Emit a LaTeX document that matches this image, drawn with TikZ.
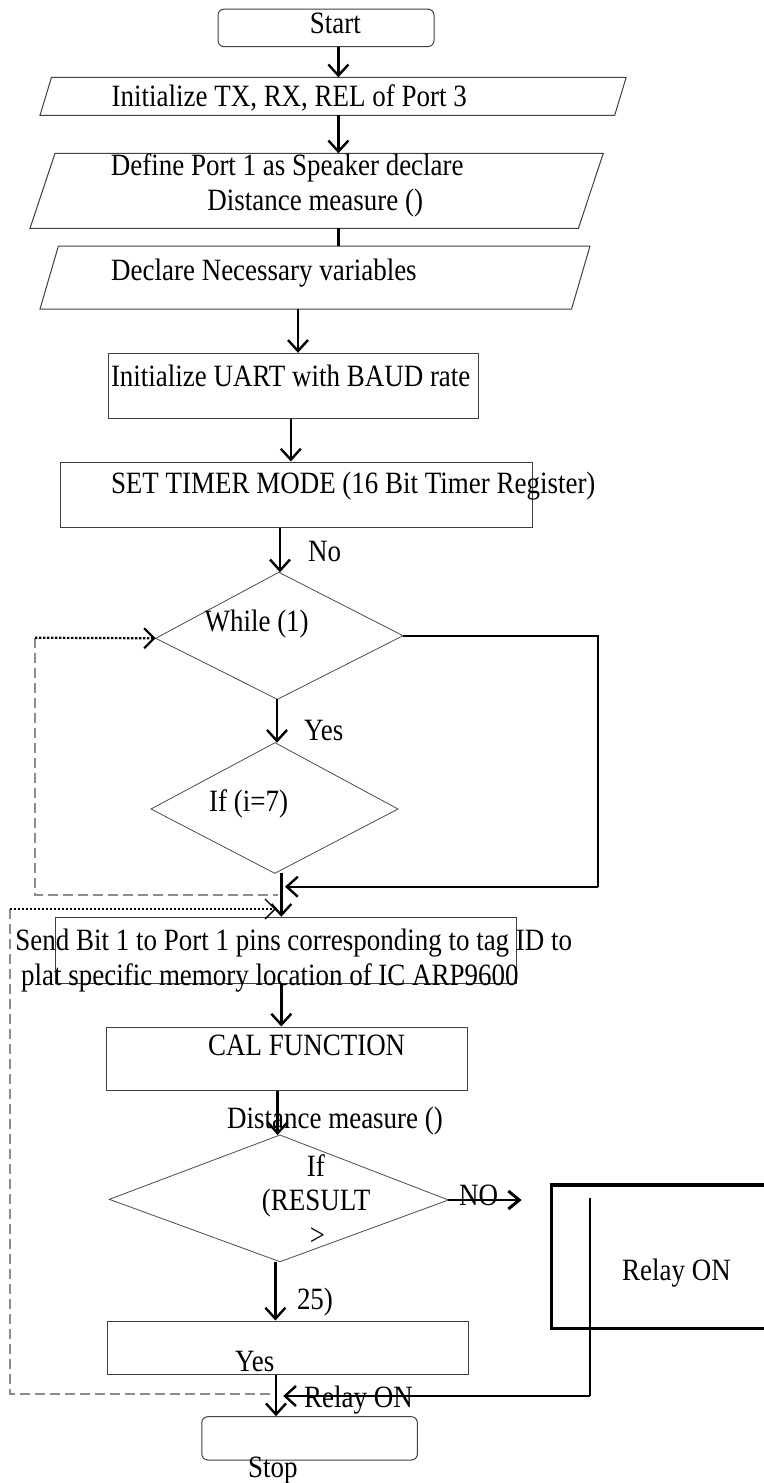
\documentclass[tikz,border=0pt]{standalone}
\usepackage{fontspec}
\setmainfont{Liberation Serif}
\newfontfamily\reffont[FakeStretch=0.87]{Liberation Serif}
\usetikzlibrary{arrows.meta}
\begin{document}
\begin{tikzpicture}[x=1pt,y=-1pt,
  txt/.style={anchor=base west,inner sep=0pt,font=\reffont\fontsize{31}{36}\selectfont},
  boxshape/.style={draw=black!75,line width=1pt},
  rbox/.style={boxshape,rectangle,inner sep=0pt},
  arr/.style={line width=2.4pt,-{Straight Barb[length=11pt,width=20pt]}},
  dots/.style={line width=2.2pt,dash pattern=on 2.4pt off 1.6pt},
  greydash/.style={draw=black!45,line width=1.4pt,dash pattern=on 10pt off 5pt},
  link/.style={line width=2pt}]
\useasboundingbox (0,0) rectangle (763,1483);
\fill[white] (0,0) rectangle (763,1483);

% ---------- shapes ----------
\node[rbox,rounded corners=6pt,minimum width=216pt,minimum height=37.4pt] (start) at (326,27.85) {};
\node[txt] (tstart) at (309.7,33.3) {Start};

\coordinate (p1bl) at (40,115.3); \coordinate (p1br) at (614.7,115.3);
\coordinate (p1tr) at (626.2,77.3); \coordinate (p1tl) at (51.5,77.3);
\draw[boxshape] (p1bl) -- (p1br) -- (p1tr) -- (p1tl) -- cycle;
\node[txt] (tp1) at (111.5,106) {Initialize TX, RX, REL of Port 3};

\coordinate (p2bl) at (30,228.3); \coordinate (p2br) at (578.4,228.3);
\coordinate (p2tr) at (603.3,153.3); \coordinate (p2tl) at (55,153.3);
\draw[boxshape] (p2bl) -- (p2br) -- (p2tr) -- (p2tl) -- cycle;
\node[txt] (tp2a) at (110.7,175) {Define Port 1 as Speaker declare};
\node[txt] (tp2b) at (207.2,210) {Distance measure ()};

\coordinate (p3bl) at (40,309); \coordinate (p3br) at (571.6,309);
\coordinate (p3tr) at (590,246); \coordinate (p3tl) at (58.4,246);
\draw[boxshape] (p3bl) -- (p3br) -- (p3tr) -- (p3tl) -- cycle;
\node[txt] (tp3) at (111,280) {Declare Necessary variables};

\node[rbox,minimum width=369.9pt,minimum height=65pt] (uart) at (293.65,385.8) {};
\node[txt] (tuart) at (110.8,386.7) {Initialize UART with BAUD rate};

\node[rbox,minimum width=472.8pt,minimum height=65.7pt] (timer) at (296.4,494.85) {};
\node[txt] (ttimer) at (110.8,493.3) {SET TIMER MODE (16 Bit Timer Register)};

% while diamond
\coordinate (wt) at (278.8,572.3); \coordinate (wr) at (403,635.7);
\coordinate (wb) at (277.4,699.3); \coordinate (wl) at (155.7,638.3);
\draw[draw=black!70,line width=0.8pt] (wt) -- (wr) -- (wb) -- (wl) -- cycle;
\node[txt] (twhile) at (204.4,631.7) {While (1)};

% if (i=7) diamond
\coordinate (it) at (275,742.7); \coordinate (ir) at (398,809);
\coordinate (ib) at (274.8,873.3); \coordinate (il) at (151,809);
\draw[draw=black!70,line width=0.8pt] (it) -- (ir) -- (ib) -- (il) -- cycle;
\node[txt] (tif) at (209,811) {If (i=7)};

\node[rbox,minimum width=461.1pt,minimum height=66pt] (send) at (286.05,950.3) {};
\node[txt] (tsend1) at (15.3,950) {Send Bit 1 to Port 1 pins corresponding to tag ID to};
\node[txt] (tsend2) at (21,985) {plat specific memory location of IC ARP9600};

\node[rbox,minimum width=361.4pt,minimum height=63pt] (cal) at (287,1058.5) {};
\node[txt] (tcal) at (208,1055) {CAL FUNCTION};
\node[txt] (tdist) at (227,1128.3) {Distance measure ()};

% result diamond
\coordinate (rt) at (280,1135); \coordinate (rr) at (448.4,1200);
\coordinate (rb) at (280,1261.7); \coordinate (rl) at (109.3,1199.3);
\draw[draw=black!70,line width=0.8pt] (rt) -- (rr) -- (rb) -- (rl) -- cycle;
\node[txt] (tres1) at (306.7,1176) {If};
\node[txt] (tres2) at (261.7,1210.7) {(RESULT};
\node[txt] (tres3) at (309.7,1245) {>};

% relay box (cut at the right edge)
\coordinate (rlt) at (551.7,1185); \coordinate (rlb) at (551.7,1328.3);
\draw[line width=3.5pt] (766,1185) -- (rlt) -- (rlb) -- (766,1328.3);
\node[txt] (trelay) at (622,1280) {Relay ON};

\node[rbox,minimum width=361.6pt,minimum height=53.3pt] (yesbox) at (287.8,1347.65) {};
\node[txt] (tyes) at (235,1371) {Yes};

\node[rbox,rounded corners=6pt,minimum width=215.6pt,minimum height=43.3pt] (stop) at (309.6,1438.35) {};
\node[txt] (tstop) at (248,1477.3) {Stop};

% ---------- connectors ----------
\coordinate (a1) at (338.4,0);
\draw[arr] (start.south -| a1) -- (p1tl -| a1);
\draw[arr] (p1bl -| a1) -- (p2tl -| a1);
\draw[line width=2.4pt] (p2bl -| a1) -- (p3tl -| a1);
\coordinate (a4) at (298,0);
\draw[arr] (p3bl -| a4) -- (uart.north -| a4);
\coordinate (a5) at (290.8,0);
\draw[arr] (uart.south -| a5) -- (timer.north -| a5);
\coordinate (a6) at (280,0);
\draw[arr] (timer.south -| a6) -- (wt -| a6);
\node[txt] (tno) at (308,561.7) {No};
\coordinate (a7) at (277,0);
\draw[arr] (wb -| a7) -- (it -| a7);
\node[txt] (tyes1) at (304,740) {Yes};

% no-branch of while back down
\coordinate (rc1) at (597.6,635.7);
\coordinate (rc2) at (597.6,886.7);
\coordinate (merge) at (285,886.7);
\draw[link] (wr) -- (rc1) -- (rc2);
\draw[arr] (rc2) -- (merge);

% from if(i=7) to send
\coordinate (a8) at (281.3,0);
\draw[arr] (ib -| a8) -- (send.north -| a8);

% dotted/dashed loops
\coordinate (lp1) at (35,637.7);
\coordinate (lp1b) at (35,895);
\coordinate (lp1e) at (278,895);
\draw[greydash] (lp1) -- (lp1b) -- (lp1e);
\draw[dots,-{Straight Barb[length=10pt,width=20pt,line width=2.2pt]}] (lp1) -- (wl);

\coordinate (lp2) at (10,909);
\coordinate (lp2b) at (10,1394);
\coordinate (lp2e) at (275,1394);
\coordinate (lp2tip) at (276,909);
\draw[greydash] (lp2) -- (lp2b) -- (lp2e);
\draw[dots,-{Straight Barb[length=10pt,width=20pt,line width=1.4pt]}] (lp2) -- (lp2tip);

\draw[arr] (send.south -| a8) -- (cal.north -| a8);
\coordinate (a9) at (277.6,0);
\draw[arr] (cal.south -| a9) -- (rt -| a9);

\coordinate (noend) at (521.7,1200);
\node[txt] (tnolbl) at (459,1205) {NO};
\draw[line width=2.4pt,-{Straight Barb[length=11pt,width=18pt,line width=3pt]}] (rr) -- (noend);

\coordinate (a10) at (275.4,0);
\draw[arr] (rb -| a10) -- (yesbox.north -| a10);
\node[txt] (t25) at (296.8,1309.3) {25)};

\coordinate (a11) at (276,0);
\draw[arr] (yesbox.south -| a11) -- (stop.north -| a11);

\coordinate (rv1) at (590,1198);
\coordinate (rv2) at (590,1328.3);
\coordinate (rv3) at (590,1396);
\coordinate (rvtip) at (283.2,1396);
\draw[line width=1.3pt] (rv1) -- (rv2);
\draw[line width=2.4pt] (rv2) -- (rv3);
\draw[arr] (rv3) -- (rvtip);
\node[txt] (trelay2) at (304,1407.3) {Relay ON};
\end{tikzpicture}
\end{document}
